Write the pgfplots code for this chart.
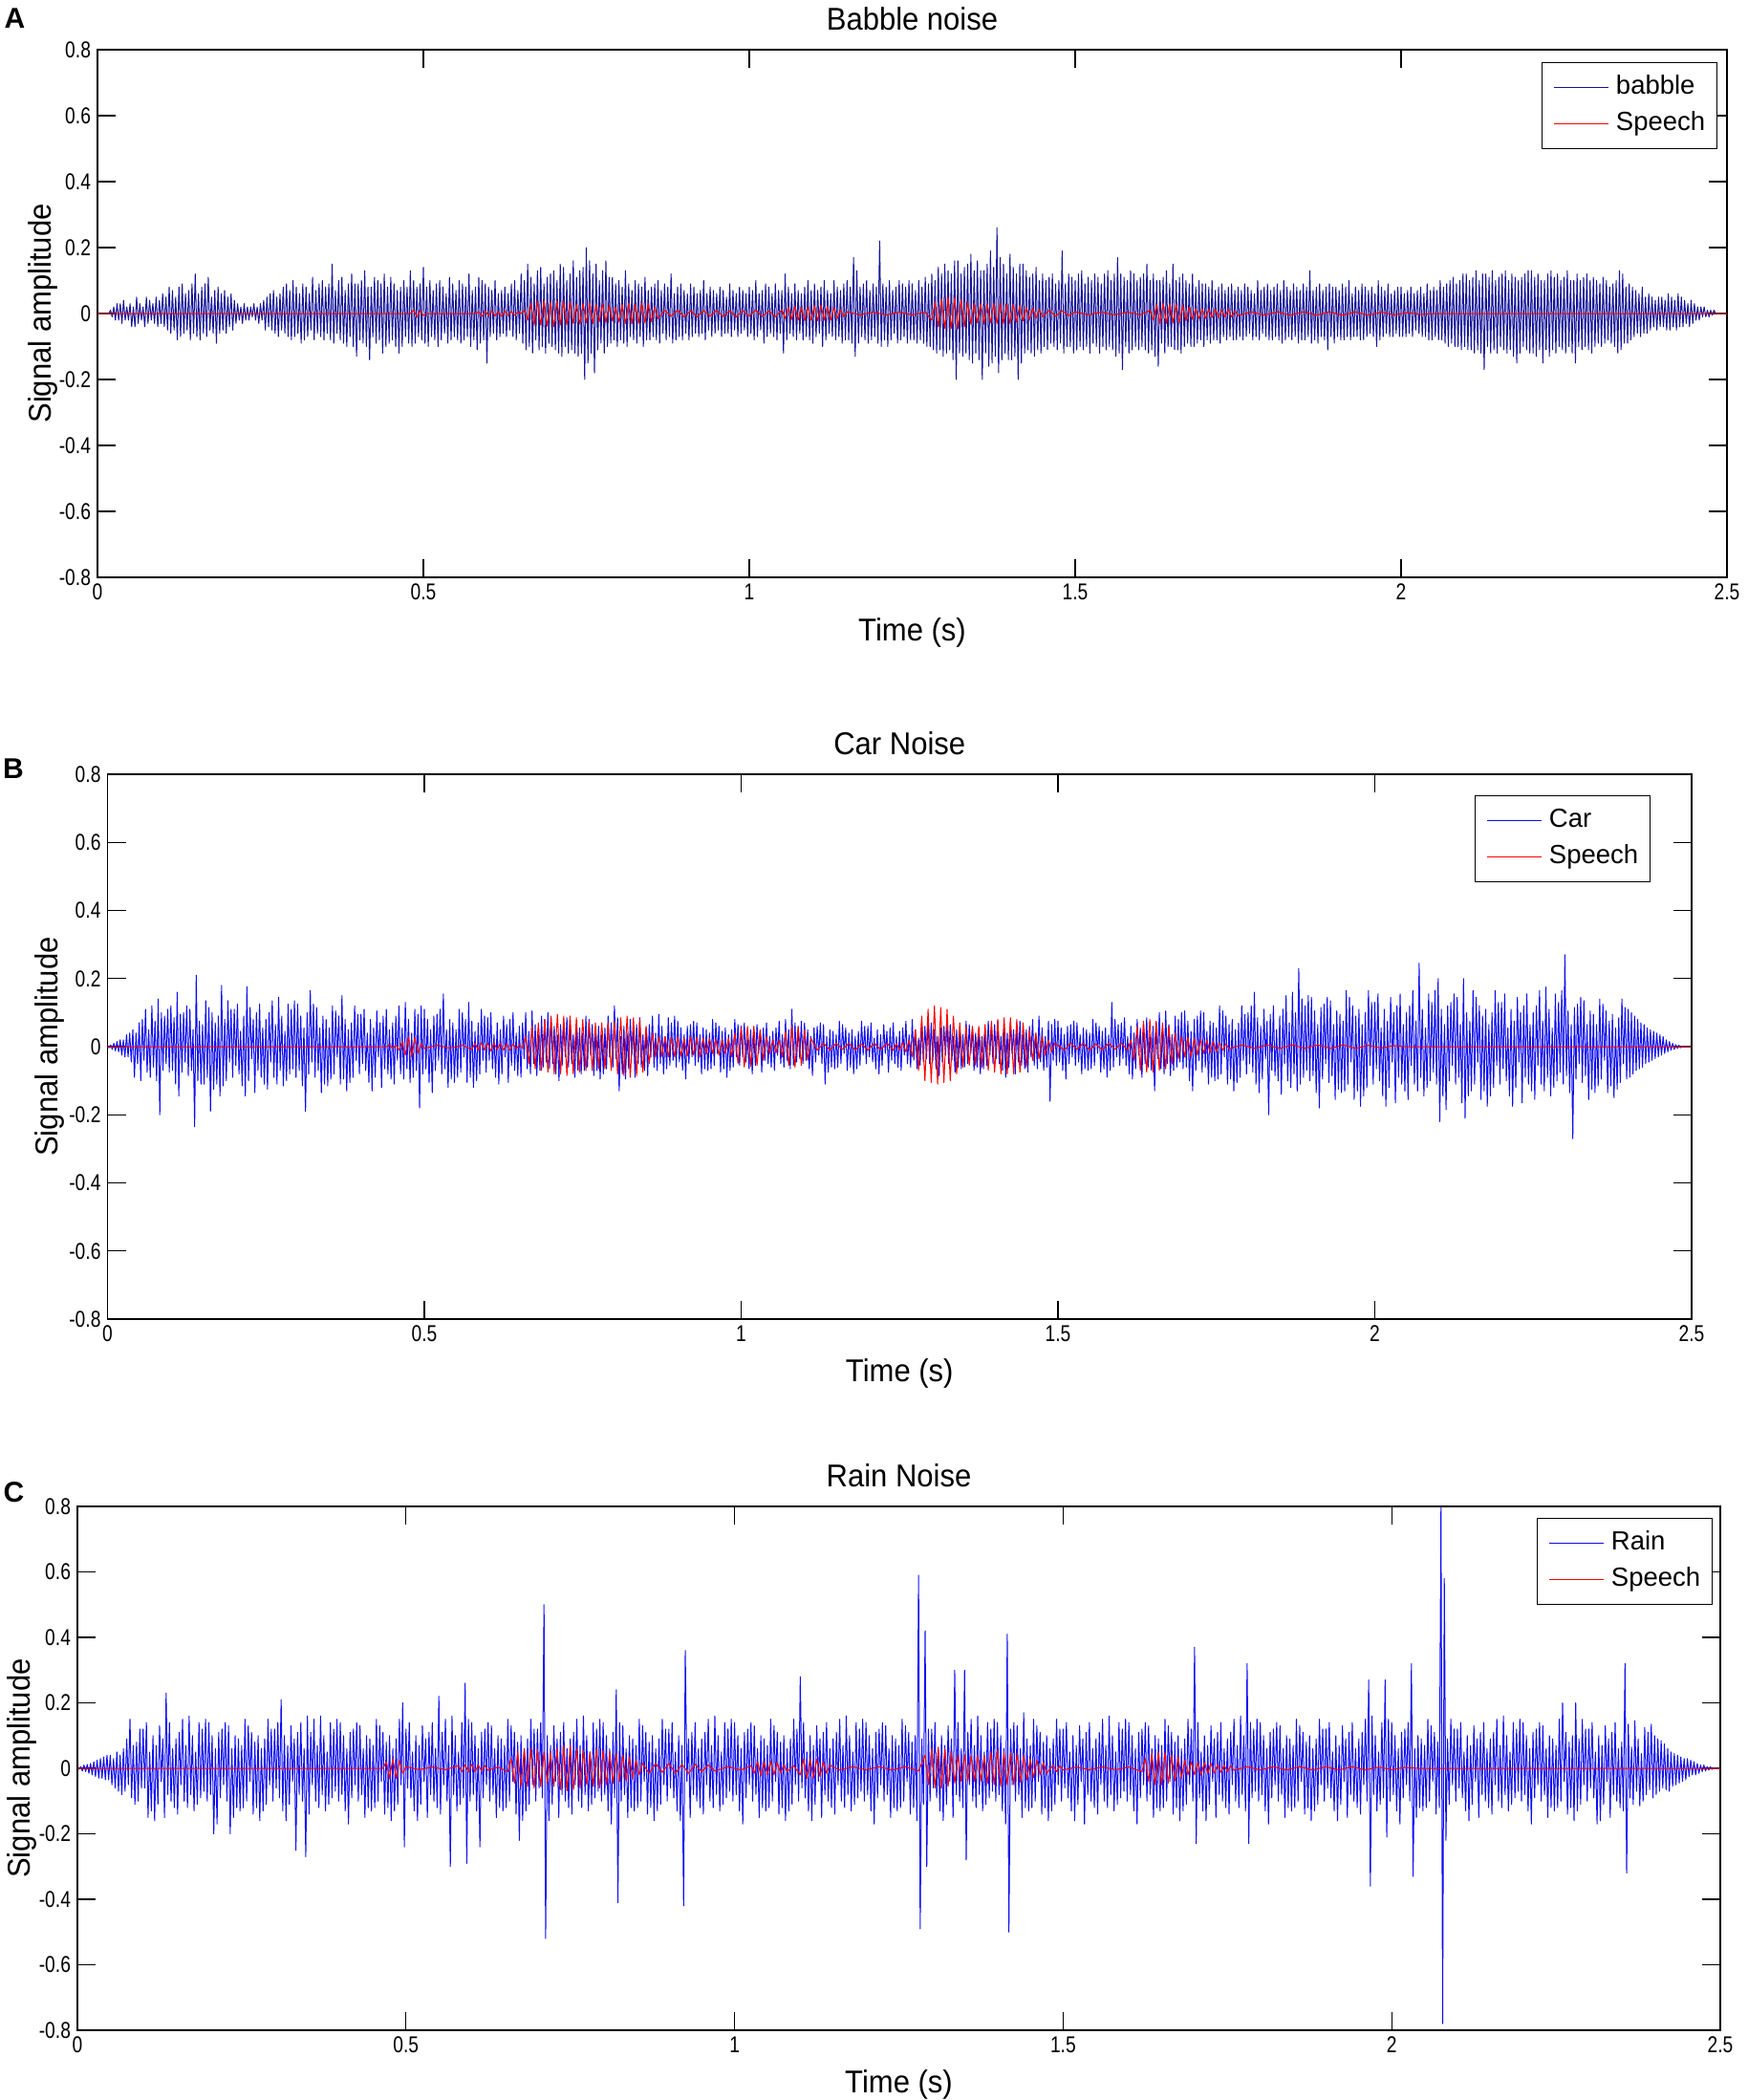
\documentclass[border=0pt]{standalone}
\usepackage{pgfplots}
\pgfplotsset{compat=1.18}
\usepackage{pgfplotstable}
\usepackage{fontspec}
\setmainfont{Liberation Sans}
\newfontfamily\tickfont{Liberation Sans}[FakeStretch=0.8]
\newfontfamily\labfont{Liberation Sans}[FakeStretch=0.94]
\newcommand\tickf{\tickfont\fontsize{12}{14}\selectfont}
\newcommand\labf{\labfont\fontsize{16.5}{19}\selectfont}
\newcommand\legf{\fontsize{13.75}{16}\selectfont}
\definecolor{babbleblue}{rgb}{0.08,0.08,0.6}
\definecolor{carblue}{rgb}{0.05,0.05,0.95}
\definecolor{sred}{rgb}{1,0,0}

% ---------------- Babble noise (y values, step 0.0025 s) ----------------
\pgfplotstableread[header=false,row sep=\\]{
0\\ 0\\ 0\\ 0\\ 0\\ 0\\ 0\\ 0\\ 0.01\\ -0.01\\ 0.02\\ -0.02\\ 0.03\\ -0.02\\ 0.03\\ -0.03\\ 0.04\\ -0.02\\ 0.02\\ -0.02\\
0.03\\ -0.04\\ 0.02\\ -0.04\\ 0.05\\ -0.03\\ 0.03\\ -0.02\\ 0.02\\ -0.04\\ 0.05\\ -0.03\\ 0.04\\ -0.02\\ 0.03\\ -0.03\\ 0.05\\ -0.04\\ 0.04\\ -0.03\\
0.06\\ -0.04\\ 0.05\\ -0.05\\ 0.08\\ -0.06\\ 0.07\\ -0.05\\ 0.05\\ -0.08\\ 0.08\\ -0.07\\ 0.09\\ -0.06\\ 0.06\\ -0.05\\ 0.07\\ -0.08\\ 0.09\\ -0.06\\
0.12\\ -0.07\\ 0.06\\ -0.08\\ 0.08\\ -0.06\\ 0.09\\ -0.07\\ 0.11\\ -0.05\\ 0.05\\ -0.06\\ 0.07\\ -0.09\\ 0.08\\ -0.06\\ 0.06\\ -0.05\\ 0.07\\ -0.06\\
0.05\\ -0.04\\ 0.06\\ -0.05\\ 0.04\\ -0.03\\ 0.03\\ -0.02\\ 0.02\\ -0.03\\ 0.03\\ -0.02\\ 0.02\\ -0.02\\ 0.02\\ -0.01\\ 0.03\\ -0.02\\ 0.02\\ -0.03\\
0.03\\ -0.02\\ 0.04\\ -0.05\\ 0.05\\ -0.04\\ 0.06\\ -0.05\\ 0.07\\ -0.06\\ 0.05\\ -0.07\\ 0.06\\ -0.05\\ 0.08\\ -0.06\\ 0.09\\ -0.07\\ 0.07\\ -0.08\\
0.1\\ -0.07\\ 0.08\\ -0.06\\ 0.06\\ -0.09\\ 0.09\\ -0.08\\ 0.08\\ -0.07\\ 0.06\\ -0.05\\ 0.11\\ -0.08\\ 0.07\\ -0.06\\ 0.09\\ -0.07\\ 0.1\\ -0.08\\
0.08\\ -0.06\\ 0.09\\ -0.08\\ 0.15\\ -0.09\\ 0.07\\ -0.06\\ 0.1\\ -0.08\\ 0.11\\ -0.09\\ 0.07\\ -0.1\\ 0.09\\ -0.07\\ 0.12\\ -0.1\\ 0.09\\ -0.13\\
0.09\\ -0.08\\ 0.1\\ -0.09\\ 0.13\\ -0.1\\ 0.08\\ -0.14\\ 0.08\\ -0.07\\ 0.11\\ -0.09\\ 0.1\\ -0.08\\ 0.09\\ -0.12\\ 0.12\\ -0.1\\ 0.08\\ -0.09\\
0.11\\ -0.08\\ 0.09\\ -0.1\\ 0.07\\ -0.12\\ 0.08\\ -0.1\\ 0.1\\ -0.07\\ 0.08\\ -0.09\\ 0.13\\ -0.1\\ 0.1\\ -0.09\\ 0.08\\ -0.07\\ 0.09\\ -0.08\\
0.14\\ -0.09\\ 0.08\\ -0.1\\ 0.1\\ -0.07\\ 0.07\\ -0.08\\ 0.09\\ -0.1\\ 0.1\\ -0.08\\ 0.08\\ -0.06\\ 0.06\\ -0.09\\ 0.11\\ -0.08\\ 0.09\\ -0.07\\
0.07\\ -0.08\\ 0.1\\ -0.09\\ 0.09\\ -0.08\\ 0.08\\ -0.07\\ 0.12\\ -0.1\\ 0.07\\ -0.08\\ 0.08\\ -0.11\\ 0.11\\ -0.09\\ 0.1\\ -0.08\\ 0.09\\ -0.15\\
0.08\\ -0.07\\ 0.07\\ -0.06\\ 0.1\\ -0.08\\ 0.06\\ -0.07\\ 0.07\\ -0.06\\ 0.08\\ -0.07\\ 0.06\\ -0.05\\ 0.09\\ -0.07\\ 0.1\\ -0.08\\ 0.07\\ -0.06\\
0.12\\ -0.09\\ 0.1\\ -0.11\\ 0.15\\ -0.1\\ 0.11\\ -0.12\\ 0.09\\ -0.08\\ 0.13\\ -0.11\\ 0.14\\ -0.1\\ 0.09\\ -0.12\\ 0.11\\ -0.09\\ 0.12\\ -0.1\\
0.13\\ -0.11\\ 0.1\\ -0.12\\ 0.15\\ -0.13\\ 0.14\\ -0.1\\ 0.1\\ -0.12\\ 0.12\\ -0.11\\ 0.16\\ -0.12\\ 0.11\\ -0.13\\ 0.13\\ -0.12\\ 0.14\\ -0.2\\
0.2\\ -0.15\\ 0.16\\ -0.12\\ 0.12\\ -0.18\\ 0.15\\ -0.11\\ 0.1\\ -0.09\\ 0.13\\ -0.12\\ 0.16\\ -0.1\\ 0.11\\ -0.09\\ 0.11\\ -0.08\\ 0.09\\ -0.1\\
0.1\\ -0.08\\ 0.08\\ -0.09\\ 0.13\\ -0.1\\ 0.09\\ -0.07\\ 0.07\\ -0.08\\ 0.1\\ -0.09\\ 0.09\\ -0.07\\ 0.08\\ -0.1\\ 0.11\\ -0.08\\ 0.07\\ -0.08\\
0.08\\ -0.07\\ 0.09\\ -0.08\\ 0.1\\ -0.09\\ 0.07\\ -0.06\\ 0.09\\ -0.08\\ 0.08\\ -0.07\\ 0.12\\ -0.09\\ 0.06\\ -0.08\\ 0.08\\ -0.07\\ 0.09\\ -0.08\\
0.07\\ -0.06\\ 0.06\\ -0.08\\ 0.09\\ -0.07\\ 0.08\\ -0.06\\ 0.06\\ -0.07\\ 0.07\\ -0.06\\ 0.1\\ -0.08\\ 0.06\\ -0.05\\ 0.08\\ -0.07\\ 0.07\\ -0.06\\
0.06\\ -0.05\\ 0.08\\ -0.07\\ 0.07\\ -0.06\\ 0.05\\ -0.06\\ 0.09\\ -0.07\\ 0.07\\ -0.05\\ 0.06\\ -0.07\\ 0.08\\ -0.06\\ 0.07\\ -0.05\\ 0.06\\ -0.07\\
0.08\\ -0.06\\ 0.07\\ -0.08\\ 0.1\\ -0.07\\ 0.06\\ -0.05\\ 0.07\\ -0.09\\ 0.09\\ -0.07\\ 0.08\\ -0.06\\ 0.06\\ -0.07\\ 0.09\\ -0.08\\ 0.07\\ -0.06\\
0.07\\ -0.12\\ 0.12\\ -0.08\\ 0.08\\ -0.06\\ 0.06\\ -0.07\\ 0.09\\ -0.08\\ 0.07\\ -0.06\\ 0.06\\ -0.08\\ 0.08\\ -0.07\\ 0.1\\ -0.08\\ 0.07\\ -0.09\\
0.09\\ -0.07\\ 0.07\\ -0.06\\ 0.08\\ -0.1\\ 0.1\\ -0.08\\ 0.07\\ -0.06\\ 0.06\\ -0.07\\ 0.1\\ -0.08\\ 0.08\\ -0.07\\ 0.07\\ -0.09\\ 0.09\\ -0.08\\
0.1\\ -0.08\\ 0.08\\ -0.09\\ 0.17\\ -0.13\\ 0.13\\ -0.09\\ 0.08\\ -0.07\\ 0.09\\ -0.08\\ 0.1\\ -0.09\\ 0.07\\ -0.08\\ 0.09\\ -0.07\\ 0.08\\ -0.09\\
0.22\\ -0.1\\ 0.09\\ -0.08\\ 0.08\\ -0.1\\ 0.1\\ -0.08\\ 0.07\\ -0.06\\ 0.08\\ -0.09\\ 0.1\\ -0.08\\ 0.09\\ -0.07\\ 0.08\\ -0.09\\ 0.1\\ -0.08\\
0.09\\ -0.08\\ 0.07\\ -0.09\\ 0.1\\ -0.08\\ 0.08\\ -0.09\\ 0.11\\ -0.1\\ 0.09\\ -0.1\\ 0.12\\ -0.11\\ 0.1\\ -0.12\\ 0.14\\ -0.11\\ 0.12\\ -0.13\\
0.15\\ -0.12\\ 0.13\\ -0.11\\ 0.12\\ -0.14\\ 0.16\\ -0.2\\ 0.16\\ -0.12\\ 0.12\\ -0.13\\ 0.14\\ -0.12\\ 0.15\\ -0.14\\ 0.18\\ -0.15\\ 0.13\\ -0.12\\
0.16\\ -0.14\\ 0.13\\ -0.2\\ 0.13\\ -0.12\\ 0.15\\ -0.16\\ 0.19\\ -0.15\\ 0.14\\ -0.13\\ 0.26\\ -0.18\\ 0.17\\ -0.14\\ 0.15\\ -0.12\\ 0.12\\ -0.14\\
0.18\\ -0.14\\ 0.14\\ -0.13\\ 0.12\\ -0.2\\ 0.15\\ -0.15\\ 0.15\\ -0.12\\ 0.13\\ -0.11\\ 0.11\\ -0.12\\ 0.12\\ -0.13\\ 0.14\\ -0.11\\ 0.1\\ -0.12\\
0.12\\ -0.1\\ 0.1\\ -0.11\\ 0.11\\ -0.09\\ 0.12\\ -0.1\\ 0.09\\ -0.11\\ 0.1\\ -0.09\\ 0.19\\ -0.12\\ 0.09\\ -0.1\\ 0.12\\ -0.1\\ 0.11\\ -0.12\\
0.1\\ -0.11\\ 0.12\\ -0.1\\ 0.13\\ -0.11\\ 0.09\\ -0.1\\ 0.11\\ -0.12\\ 0.1\\ -0.09\\ 0.12\\ -0.1\\ 0.11\\ -0.12\\ 0.09\\ -0.1\\ 0.12\\ -0.11\\
0.13\\ -0.1\\ 0.1\\ -0.11\\ 0.12\\ -0.13\\ 0.17\\ -0.12\\ 0.12\\ -0.17\\ 0.11\\ -0.1\\ 0.1\\ -0.12\\ 0.13\\ -0.11\\ 0.12\\ -0.1\\ 0.1\\ -0.11\\
0.11\\ -0.1\\ 0.12\\ -0.11\\ 0.15\\ -0.12\\ 0.1\\ -0.11\\ 0.12\\ -0.13\\ 0.1\\ -0.16\\ 0.1\\ -0.09\\ 0.11\\ -0.12\\ 0.13\\ -0.1\\ 0.09\\ -0.1\\
0.15\\ -0.11\\ 0.1\\ -0.11\\ 0.11\\ -0.12\\ 0.12\\ -0.1\\ 0.1\\ -0.09\\ 0.09\\ -0.1\\ 0.12\\ -0.1\\ 0.08\\ -0.09\\ 0.1\\ -0.08\\ 0.09\\ -0.1\\
0.09\\ -0.08\\ 0.08\\ -0.09\\ 0.1\\ -0.08\\ 0.07\\ -0.08\\ 0.08\\ -0.09\\ 0.09\\ -0.07\\ 0.07\\ -0.08\\ 0.08\\ -0.07\\ 0.09\\ -0.08\\ 0.07\\ -0.08\\
0.08\\ -0.07\\ 0.07\\ -0.08\\ 0.09\\ -0.07\\ 0.08\\ -0.06\\ 0.07\\ -0.08\\ 0.06\\ -0.07\\ 0.1\\ -0.08\\ 0.07\\ -0.06\\ 0.08\\ -0.07\\ 0.09\\ -0.08\\
0.07\\ -0.08\\ 0.08\\ -0.07\\ 0.09\\ -0.08\\ 0.07\\ -0.09\\ 0.1\\ -0.08\\ 0.08\\ -0.07\\ 0.07\\ -0.08\\ 0.09\\ -0.07\\ 0.08\\ -0.09\\ 0.07\\ -0.08\\
0.09\\ -0.08\\ 0.08\\ -0.07\\ 0.13\\ -0.09\\ 0.07\\ -0.08\\ 0.08\\ -0.09\\ 0.09\\ -0.07\\ 0.07\\ -0.08\\ 0.08\\ -0.11\\ 0.09\\ -0.07\\ 0.08\\ -0.09\\
0.08\\ -0.07\\ 0.07\\ -0.08\\ 0.09\\ -0.08\\ 0.08\\ -0.07\\ 0.1\\ -0.08\\ 0.06\\ -0.07\\ 0.08\\ -0.07\\ 0.07\\ -0.08\\ 0.09\\ -0.08\\ 0.08\\ -0.07\\
0.07\\ -0.06\\ 0.08\\ -0.07\\ 0.06\\ -0.1\\ 0.1\\ -0.08\\ 0.08\\ -0.07\\ 0.07\\ -0.06\\ 0.09\\ -0.07\\ 0.06\\ -0.07\\ 0.07\\ -0.06\\ 0.08\\ -0.07\\
0.08\\ -0.07\\ 0.06\\ -0.07\\ 0.07\\ -0.06\\ 0.08\\ -0.07\\ 0.06\\ -0.05\\ 0.07\\ -0.06\\ 0.08\\ -0.07\\ 0.06\\ -0.07\\ 0.09\\ -0.08\\ 0.07\\ -0.08\\
0.08\\ -0.07\\ 0.07\\ -0.08\\ 0.1\\ -0.08\\ 0.08\\ -0.09\\ 0.09\\ -0.1\\ 0.1\\ -0.09\\ 0.11\\ -0.1\\ 0.09\\ -0.1\\ 0.1\\ -0.11\\ 0.12\\ -0.1\\
0.12\\ -0.11\\ 0.1\\ -0.11\\ 0.11\\ -0.12\\ 0.13\\ -0.11\\ 0.1\\ -0.12\\ 0.12\\ -0.17\\ 0.12\\ -0.1\\ 0.11\\ -0.12\\ 0.13\\ -0.11\\ 0.1\\ -0.12\\
0.11\\ -0.1\\ 0.12\\ -0.11\\ 0.13\\ -0.12\\ 0.1\\ -0.11\\ 0.12\\ -0.13\\ 0.11\\ -0.15\\ 0.1\\ -0.12\\ 0.11\\ -0.1\\ 0.12\\ -0.11\\ 0.13\\ -0.12\\
0.13\\ -0.12\\ 0.11\\ -0.13\\ 0.12\\ -0.11\\ 0.1\\ -0.15\\ 0.1\\ -0.11\\ 0.12\\ -0.13\\ 0.13\\ -0.11\\ 0.11\\ -0.12\\ 0.12\\ -0.1\\ 0.1\\ -0.11\\
0.11\\ -0.12\\ 0.13\\ -0.1\\ 0.1\\ -0.12\\ 0.1\\ -0.15\\ 0.12\\ -0.1\\ 0.1\\ -0.11\\ 0.11\\ -0.1\\ 0.12\\ -0.11\\ 0.1\\ -0.12\\ 0.11\\ -0.1\\
0.1\\ -0.09\\ 0.09\\ -0.1\\ 0.11\\ -0.09\\ 0.1\\ -0.08\\ 0.08\\ -0.09\\ 0.09\\ -0.1\\ 0.1\\ -0.12\\ 0.13\\ -0.11\\ 0.12\\ -0.09\\ 0.08\\ -0.09\\
0.09\\ -0.08\\ 0.08\\ -0.07\\ 0.07\\ -0.06\\ 0.06\\ -0.07\\ 0.08\\ -0.06\\ 0.05\\ -0.06\\ 0.06\\ -0.05\\ 0.05\\ -0.04\\ 0.04\\ -0.05\\ 0.05\\ -0.04\\
0.05\\ -0.04\\ 0.04\\ -0.05\\ 0.06\\ -0.05\\ 0.05\\ -0.04\\ 0.04\\ -0.05\\ 0.06\\ -0.04\\ 0.05\\ -0.04\\ 0.04\\ -0.03\\ 0.03\\ -0.04\\ 0.04\\ -0.03\\
0.03\\ -0.02\\ 0.02\\ -0.02\\ 0.02\\ -0.01\\ 0.02\\ -0.01\\ 0.01\\ -0.01\\ 0.01\\ -0.005\\ 0.01\\ 0\\ 0\\ 0\\ 0\\ 0\\ 0\\ 0\\
}\noiseA

% ---------------- Speech in panel A (t, y) ----------------
\pgfplotstableread[header=false,row sep=\\]{
0 0\\ 0.48 0\\ 0.485 0.01\\ 0.49 -0.01\\ 0.495 0.008\\ 0.5 -0.006\\ 0.505 0\\ 0.58 0\\
0.585 0.005\\ 0.59 -0.008\\ 0.595 0.007\\ 0.6 -0.006\\ 0.605 0.008\\ 0.61 -0.007\\ 0.615 0.006\\ 0.62 -0.008\\ 0.625 0.007\\ 0.63 -0.005\\ 0.635 0.006\\ 0.64 -0.005\\ 0.645 0.004\\ 0.65 0\\
0.655 0.01\\ 0.66 -0.02\\ 0.665 0.03\\ 0.67 -0.035\\ 0.675 0.038\\ 0.68 -0.035\\ 0.685 0.04\\ 0.69 -0.038\\ 0.695 0.035\\ 0.7 -0.04\\ 0.705 0.038\\ 0.71 -0.035\\ 0.715 0.037\\ 0.72 -0.034\\ 0.725 0.036\\ 0.73 -0.03\\
0.735 0.028\\ 0.74 -0.032\\ 0.745 0.03\\ 0.75 -0.028\\ 0.755 0.033\\ 0.76 -0.03\\ 0.765 0.028\\ 0.77 -0.025\\ 0.775 0.03\\ 0.78 -0.027\\ 0.785 0.025\\ 0.79 -0.022\\ 0.795 0.02\\ 0.8 -0.025\\ 0.805 0.028\\ 0.81 -0.03\\ 0.815 0.032\\ 0.82 -0.03\\ 0.825 0.028\\ 0.83 -0.03\\ 0.835 0.032\\ 0.84 -0.028\\ 0.845 0.03\\ 0.85 -0.025\\ 0.855 0.02\\ 0.86 -0.015\\
0.87 0.01\\ 0.88 -0.008\\ 0.89 0.01\\ 0.9 -0.01\\ 0.91 0.008\\ 0.92 -0.01\\ 0.93 0.009\\ 0.94 -0.008\\ 0.95 0.01\\ 0.96 -0.009\\ 0.97 0.008\\ 0.98 -0.01\\ 0.99 0.009\\ 1 -0.008\\ 1.01 0.01\\ 1.02 -0.009\\ 1.03 0.008\\ 1.04 -0.01\\ 1.05 0.012\\
1.055 -0.015\\ 1.06 0.02\\ 1.065 -0.018\\ 1.07 0.022\\ 1.075 -0.02\\ 1.08 0.018\\ 1.085 -0.022\\ 1.09 0.02\\ 1.095 -0.02\\ 1.1 0.024\\ 1.105 -0.022\\ 1.11 0.025\\ 1.115 -0.02\\ 1.12 0.022\\ 1.125 -0.02\\ 1.13 0.018\\ 1.135 -0.015\\ 1.14 0.012\\ 1.145 -0.01\\ 1.15 0.005\\
1.17 -0.004\\ 1.19 0.004\\ 1.21 -0.004\\ 1.23 0.004\\ 1.25 -0.004\\ 1.27 0.004\\
1.28 -0.02\\ 1.285 0.035\\ 1.29 -0.04\\ 1.295 0.045\\ 1.3 -0.045\\ 1.305 0.05\\ 1.31 -0.045\\ 1.315 0.048\\ 1.32 -0.045\\ 1.325 0.042\\ 1.33 -0.04\\ 1.335 0.035\\
1.34 -0.032\\ 1.345 0.03\\ 1.35 -0.028\\ 1.355 0.03\\ 1.36 -0.032\\ 1.365 0.03\\ 1.37 -0.028\\ 1.375 0.03\\ 1.38 -0.03\\ 1.385 0.032\\ 1.39 -0.03\\ 1.395 0.028\\ 1.4 -0.03\\ 1.405 0.028\\ 1.41 -0.026\\ 1.415 0.025\\ 1.42 -0.022\\ 1.425 0.02\\ 1.43 -0.018\\ 1.435 0.016\\ 1.44 -0.014\\ 1.445 0.012\\
1.45 -0.01\\ 1.46 0.01\\ 1.47 -0.008\\ 1.48 0.008\\ 1.49 -0.006\\ 1.5 0.005\\
1.52 -0.004\\ 1.54 0.004\\ 1.56 -0.004\\ 1.58 0.004\\ 1.6 -0.004\\ 1.615 0.01\\
1.62 -0.02\\ 1.625 0.028\\ 1.63 -0.03\\ 1.635 0.032\\ 1.64 -0.03\\ 1.645 0.03\\ 1.65 -0.028\\ 1.655 0.03\\ 1.66 -0.028\\ 1.665 0.025\\ 1.67 -0.022\\ 1.675 0.02\\ 1.68 -0.018\\
1.685 0.015\\ 1.69 -0.015\\ 1.695 0.014\\ 1.7 -0.015\\ 1.705 0.013\\ 1.71 -0.012\\ 1.715 0.014\\ 1.72 -0.012\\ 1.725 0.01\\ 1.73 -0.01\\ 1.735 0.012\\ 1.74 -0.01\\ 1.745 0.008\\ 1.75 -0.006\\
1.77 0.005\\ 1.79 -0.005\\ 1.81 0.005\\ 1.83 -0.005\\ 1.85 0.005\\ 1.87 -0.005\\ 1.89 0.005\\ 1.91 -0.005\\ 1.93 0.005\\ 1.95 -0.005\\ 1.97 0.004\\ 1.99 -0.004\\ 2.01 0.003\\ 2.03 -0.003\\ 2.05 0\\ 2.5 0\\
}\speechA

% ---------------- Car noise (y values, step 0.0025 s) ----------------
\pgfplotstableread[header=false,row sep=\\]{
0\\ -0.003\\ 0.005\\ -0.008\\ 0.01\\ -0.012\\ 0.015\\ -0.015\\ 0.02\\ -0.025\\ 0.02\\ -0.03\\ 0.035\\ -0.03\\ 0.04\\ -0.045\\ 0.05\\ -0.09\\ 0.04\\ -0.05\\
0.07\\ -0.1\\ 0.08\\ -0.04\\ 0.11\\ -0.075\\ 0.05\\ -0.09\\ 0.12\\ -0.06\\ 0.075\\ -0.1\\ 0.14\\ -0.2\\ 0.1\\ -0.07\\ 0.09\\ -0.05\\ 0.11\\ -0.075\\
0.12\\ -0.07\\ 0.085\\ -0.11\\ 0.16\\ -0.145\\ 0.095\\ -0.075\\ 0.1\\ -0.045\\ 0.12\\ -0.085\\ 0.11\\ -0.07\\ 0.05\\ -0.235\\ 0.21\\ -0.1\\ 0.075\\ -0.11\\
0.065\\ -0.11\\ 0.135\\ -0.09\\ 0.115\\ -0.19\\ 0.1\\ -0.125\\ 0.07\\ -0.11\\ 0.09\\ -0.145\\ 0.18\\ -0.115\\ 0.08\\ -0.1\\ 0.135\\ -0.045\\ 0.11\\ -0.09\\
0.11\\ -0.055\\ 0.125\\ -0.08\\ 0.045\\ -0.115\\ 0.09\\ -0.145\\ 0.176\\ -0.1\\ 0.115\\ -0.035\\ 0.08\\ -0.135\\ 0.1\\ -0.07\\ 0.125\\ -0.09\\ 0.055\\ -0.11\\
0.08\\ -0.125\\ 0.1\\ -0.045\\ 0.135\\ -0.09\\ 0.065\\ -0.11\\ 0.145\\ -0.07\\ 0.09\\ -0.115\\ 0.045\\ -0.1\\ 0.125\\ -0.08\\ 0.11\\ -0.065\\ 0.135\\ -0.09\\
0.125\\ -0.07\\ 0.09\\ -0.115\\ 0.055\\ -0.19\\ 0.1\\ -0.08\\ 0.165\\ -0.045\\ 0.125\\ -0.09\\ 0.115\\ -0.07\\ 0.055\\ -0.135\\ 0.09\\ -0.11\\ 0.08\\ -0.115\\
0.055\\ -0.095\\ 0.12\\ -0.08\\ 0.105\\ -0.03\\ 0.09\\ -0.11\\ 0.15\\ -0.095\\ 0.08\\ -0.13\\ 0.05\\ -0.105\\ 0.07\\ -0.09\\ 0.12\\ -0.04\\ 0.095\\ -0.08\\
0.095\\ -0.05\\ 0.11\\ -0.07\\ 0.04\\ -0.105\\ 0.08\\ -0.13\\ 0.055\\ -0.09\\ 0.105\\ -0.03\\ 0.07\\ -0.12\\ 0.09\\ -0.065\\ 0.11\\ -0.08\\ 0.05\\ -0.095\\
0.07\\ -0.11\\ 0.09\\ -0.04\\ 0.12\\ -0.08\\ 0.055\\ -0.095\\ 0.13\\ -0.065\\ 0.08\\ -0.105\\ 0.04\\ -0.09\\ 0.11\\ -0.07\\ 0.095\\ -0.18\\ 0.12\\ -0.08\\
0.11\\ -0.065\\ 0.08\\ -0.105\\ 0.05\\ -0.135\\ 0.09\\ -0.07\\ 0.095\\ -0.04\\ 0.11\\ -0.08\\ 0.155\\ -0.065\\ 0.05\\ -0.12\\ 0.08\\ -0.095\\ 0.07\\ -0.105\\
0.05\\ -0.09\\ 0.11\\ -0.075\\ 0.1\\ -0.03\\ 0.08\\ -0.105\\ 0.13\\ -0.09\\ 0.075\\ -0.12\\ 0.045\\ -0.1\\ 0.07\\ -0.08\\ 0.11\\ -0.04\\ 0.09\\ -0.075\\
0.085\\ -0.04\\ 0.1\\ -0.065\\ 0.035\\ -0.09\\ 0.07\\ -0.11\\ 0.05\\ -0.08\\ 0.09\\ -0.03\\ 0.065\\ -0.105\\ 0.08\\ -0.055\\ 0.1\\ -0.07\\ 0.04\\ -0.085\\
0.06\\ -0.09\\ 0.07\\ -0.035\\ 0.1\\ -0.065\\ 0.045\\ -0.08\\ 0.105\\ -0.05\\ 0.065\\ -0.085\\ 0.035\\ -0.07\\ 0.09\\ -0.06\\ 0.08\\ -0.045\\ 0.1\\ -0.065\\
0.085\\ -0.05\\ 0.06\\ -0.08\\ 0.035\\ -0.1\\ 0.065\\ -0.055\\ 0.07\\ -0.03\\ 0.085\\ -0.06\\ 0.08\\ -0.05\\ 0.035\\ -0.09\\ 0.06\\ -0.07\\ 0.055\\ -0.08\\
0.04\\ -0.07\\ 0.09\\ -0.06\\ 0.08\\ -0.025\\ 0.065\\ -0.085\\ 0.05\\ -0.07\\ 0.06\\ -0.095\\ 0.035\\ -0.08\\ 0.055\\ -0.065\\ 0.09\\ -0.03\\ 0.07\\ -0.06\\
0.12\\ -0.035\\ 0.085\\ -0.13\\ 0.03\\ -0.08\\ 0.06\\ -0.095\\ 0.04\\ -0.065\\ 0.08\\ -0.025\\ 0.055\\ -0.09\\ 0.065\\ -0.05\\ 0.085\\ -0.06\\ 0.035\\ -0.07\\
0.055\\ -0.085\\ 0.065\\ -0.03\\ 0.09\\ -0.06\\ 0.04\\ -0.07\\ 0.095\\ -0.05\\ 0.06\\ -0.08\\ 0.03\\ -0.065\\ 0.085\\ -0.055\\ 0.07\\ -0.04\\ 0.09\\ -0.06\\
0.075\\ -0.045\\ 0.055\\ -0.07\\ 0.035\\ -0.095\\ 0.06\\ -0.05\\ 0.065\\ -0.03\\ 0.075\\ -0.055\\ 0.07\\ -0.045\\ 0.035\\ -0.08\\ 0.055\\ -0.065\\ 0.05\\ -0.07\\
0.04\\ -0.065\\ 0.08\\ -0.055\\ 0.07\\ -0.02\\ 0.06\\ -0.075\\ 0.045\\ -0.065\\ 0.055\\ -0.09\\ 0.035\\ -0.07\\ 0.05\\ -0.06\\ 0.08\\ -0.03\\ 0.065\\ -0.055\\
0.06\\ -0.03\\ 0.07\\ -0.045\\ 0.025\\ -0.065\\ 0.05\\ -0.08\\ 0.035\\ -0.055\\ 0.065\\ -0.02\\ 0.045\\ -0.075\\ 0.055\\ -0.04\\ 0.07\\ -0.05\\ 0.03\\ -0.06\\
0.045\\ -0.07\\ 0.055\\ -0.025\\ 0.075\\ -0.05\\ 0.035\\ -0.06\\ 0.08\\ -0.04\\ 0.05\\ -0.065\\ 0.11\\ -0.055\\ 0.07\\ -0.045\\ 0.06\\ -0.035\\ 0.075\\ -0.05\\
0.07\\ -0.04\\ 0.05\\ -0.065\\ 0.03\\ -0.085\\ 0.055\\ -0.045\\ 0.06\\ -0.025\\ 0.07\\ -0.05\\ 0.065\\ -0.11\\ 0.03\\ -0.075\\ 0.05\\ -0.06\\ 0.045\\ -0.065\\
0.035\\ -0.06\\ 0.075\\ -0.05\\ 0.065\\ -0.02\\ 0.055\\ -0.07\\ 0.04\\ -0.06\\ 0.05\\ -0.08\\ 0.03\\ -0.065\\ 0.045\\ -0.055\\ 0.075\\ -0.025\\ 0.06\\ -0.05\\
0.06\\ -0.03\\ 0.07\\ -0.045\\ 0.025\\ -0.065\\ 0.05\\ -0.08\\ 0.035\\ -0.055\\ 0.065\\ -0.02\\ 0.045\\ -0.075\\ 0.055\\ -0.04\\ 0.07\\ -0.05\\ 0.03\\ -0.06\\
0.045\\ -0.07\\ 0.055\\ -0.025\\ 0.075\\ -0.05\\ 0.035\\ -0.06\\ 0.08\\ -0.04\\ 0.05\\ -0.065\\ 0.025\\ -0.055\\ 0.07\\ -0.045\\ 0.06\\ -0.035\\ 0.075\\ -0.05\\
0.07\\ -0.04\\ 0.05\\ -0.065\\ 0.03\\ -0.085\\ 0.055\\ -0.045\\ 0.06\\ -0.025\\ 0.07\\ -0.05\\ 0.065\\ -0.04\\ 0.03\\ -0.075\\ 0.05\\ -0.06\\ 0.045\\ -0.065\\
0.035\\ -0.06\\ 0.075\\ -0.05\\ 0.065\\ -0.02\\ 0.055\\ -0.07\\ 0.04\\ -0.06\\ 0.05\\ -0.08\\ 0.03\\ -0.065\\ 0.045\\ -0.055\\ 0.075\\ -0.025\\ 0.06\\ -0.05\\
0.065\\ -0.035\\ 0.075\\ -0.05\\ 0.03\\ -0.07\\ 0.055\\ -0.09\\ 0.04\\ -0.06\\ 0.07\\ -0.02\\ 0.05\\ -0.08\\ 0.06\\ -0.045\\ 0.075\\ -0.055\\ 0.035\\ -0.065\\
0.05\\ -0.075\\ 0.06\\ -0.03\\ 0.08\\ -0.055\\ 0.04\\ -0.065\\ 0.09\\ -0.045\\ 0.055\\ -0.07\\ 0.03\\ -0.06\\ 0.075\\ -0.16\\ 0.065\\ -0.04\\ 0.08\\ -0.055\\
0.075\\ -0.045\\ 0.055\\ -0.07\\ 0.035\\ -0.095\\ 0.06\\ -0.05\\ 0.065\\ -0.03\\ 0.075\\ -0.055\\ 0.07\\ -0.045\\ 0.035\\ -0.08\\ 0.055\\ -0.065\\ 0.05\\ -0.07\\
0.04\\ -0.065\\ 0.08\\ -0.055\\ 0.07\\ -0.02\\ 0.06\\ -0.075\\ 0.045\\ -0.065\\ 0.055\\ -0.09\\ 0.035\\ -0.07\\ 0.13\\ -0.06\\ 0.08\\ -0.03\\ 0.065\\ -0.055\\
0.07\\ -0.035\\ 0.085\\ -0.055\\ 0.03\\ -0.08\\ 0.06\\ -0.095\\ 0.04\\ -0.065\\ 0.08\\ -0.025\\ 0.055\\ -0.09\\ 0.065\\ -0.05\\ 0.085\\ -0.06\\ 0.035\\ -0.07\\
0.06\\ -0.13\\ 0.07\\ -0.035\\ 0.1\\ -0.065\\ 0.045\\ -0.08\\ 0.105\\ -0.05\\ 0.065\\ -0.085\\ 0.035\\ -0.07\\ 0.09\\ -0.06\\ 0.08\\ -0.045\\ 0.1\\ -0.065\\
0.105\\ -0.06\\ 0.075\\ -0.1\\ 0.045\\ -0.13\\ 0.08\\ -0.07\\ 0.09\\ -0.04\\ 0.105\\ -0.075\\ 0.1\\ -0.06\\ 0.045\\ -0.11\\ 0.075\\ -0.09\\ 0.07\\ -0.1\\
0.055\\ -0.095\\ 0.12\\ -0.08\\ 0.105\\ -0.03\\ 0.09\\ -0.11\\ 0.065\\ -0.095\\ 0.08\\ -0.13\\ 0.05\\ -0.105\\ 0.07\\ -0.09\\ 0.12\\ -0.04\\ 0.095\\ -0.08\\
0.1\\ -0.05\\ 0.12\\ -0.075\\ 0.16\\ -0.11\\ 0.085\\ -0.135\\ 0.06\\ -0.095\\ 0.11\\ -0.035\\ 0.075\\ -0.2\\ 0.095\\ -0.07\\ 0.12\\ -0.085\\ 0.05\\ -0.1\\
0.09\\ -0.14\\ 0.11\\ -0.05\\ 0.15\\ -0.1\\ 0.07\\ -0.12\\ 0.16\\ -0.08\\ 0.1\\ -0.13\\ 0.23\\ -0.11\\ 0.14\\ -0.09\\ 0.12\\ -0.07\\ 0.15\\ -0.1\\
0.145\\ -0.085\\ 0.105\\ -0.135\\ 0.065\\ -0.18\\ 0.115\\ -0.095\\ 0.125\\ -0.05\\ 0.145\\ -0.105\\ 0.135\\ -0.085\\ 0.065\\ -0.155\\ 0.105\\ -0.125\\ 0.095\\ -0.135\\
0.075\\ -0.13\\ 0.165\\ -0.11\\ 0.145\\ -0.045\\ 0.12\\ -0.155\\ 0.09\\ -0.13\\ 0.11\\ -0.175\\ 0.065\\ -0.145\\ 0.1\\ -0.12\\ 0.165\\ -0.055\\ 0.13\\ -0.11\\
0.13\\ -0.065\\ 0.155\\ -0.1\\ 0.055\\ -0.145\\ 0.11\\ -0.175\\ 0.075\\ -0.12\\ 0.145\\ -0.045\\ 0.1\\ -0.165\\ 0.12\\ -0.09\\ 0.155\\ -0.11\\ 0.065\\ -0.13\\
0.1\\ -0.155\\ 0.12\\ -0.055\\ 0.165\\ -0.11\\ 0.075\\ -0.13\\ 0.245\\ -0.09\\ 0.11\\ -0.145\\ 0.055\\ -0.12\\ 0.155\\ -0.1\\ 0.13\\ -0.075\\ 0.165\\ -0.11\\
0.2\\ -0.22\\ 0.11\\ -0.145\\ 0.065\\ -0.185\\ 0.12\\ -0.1\\ 0.13\\ -0.055\\ 0.155\\ -0.11\\ 0.145\\ -0.09\\ 0.065\\ -0.165\\ 0.2\\ -0.21\\ 0.1\\ -0.145\\
0.075\\ -0.13\\ 0.165\\ -0.11\\ 0.145\\ -0.045\\ 0.12\\ -0.155\\ 0.09\\ -0.13\\ 0.11\\ -0.175\\ 0.065\\ -0.145\\ 0.1\\ -0.12\\ 0.165\\ -0.055\\ 0.13\\ -0.11\\
0.13\\ -0.065\\ 0.155\\ -0.1\\ 0.055\\ -0.145\\ 0.11\\ -0.175\\ 0.075\\ -0.12\\ 0.145\\ -0.045\\ 0.1\\ -0.165\\ 0.12\\ -0.09\\ 0.155\\ -0.11\\ 0.065\\ -0.13\\
0.1\\ -0.155\\ 0.12\\ -0.055\\ 0.165\\ -0.11\\ 0.075\\ -0.13\\ 0.175\\ -0.09\\ 0.11\\ -0.145\\ 0.055\\ -0.12\\ 0.155\\ -0.1\\ 0.13\\ -0.075\\ 0.165\\ -0.11\\
0.27\\ -0.085\\ 0.105\\ -0.135\\ 0.065\\ -0.27\\ 0.115\\ -0.095\\ 0.125\\ -0.05\\ 0.145\\ -0.105\\ 0.135\\ -0.085\\ 0.065\\ -0.155\\ 0.105\\ -0.125\\ 0.095\\ -0.135\\
0.065\\ -0.115\\ 0.14\\ -0.095\\ 0.125\\ -0.04\\ 0.105\\ -0.135\\ 0.075\\ -0.115\\ 0.095\\ -0.15\\ 0.055\\ -0.125\\ 0.085\\ -0.105\\ 0.14\\ -0.05\\ 0.115\\ -0.095\\
0.11\\ -0.09\\ 0.1\\ -0.08\\ 0.09\\ -0.07\\ 0.08\\ -0.065\\ 0.07\\ -0.06\\ 0.065\\ -0.05\\ 0.055\\ -0.045\\ 0.05\\ -0.04\\ 0.045\\ -0.035\\ 0.04\\ -0.03\\
0.035\\ -0.025\\ 0.03\\ -0.02\\ 0.02\\ -0.015\\ 0.015\\ -0.01\\ 0.01\\ -0.008\\ 0.006\\ -0.005\\ 0.004\\ -0.003\\ 0.002\\ 0\\ 0\\ 0\\ 0\\ 0\\
}\noiseB

% ---------------- Speech in panel B (t, y) ----------------
\pgfplotstableread[header=false,row sep=\\]{
0 0\\ 0.44 0\\ 0.445 0.005\\ 0.45 -0.005\\ 0.455 0.005\\ 0.46 -0.01\\ 0.465 0.015\\ 0.47 -0.025\\ 0.475 0.03\\ 0.48 -0.03\\ 0.485 0.028\\ 0.49 -0.02\\ 0.495 0.01\\ 0.5 -0.005\\
0.52 0.004\\ 0.54 -0.004\\ 0.56 0.004\\
0.575 -0.008\\ 0.58 0.01\\ 0.585 -0.01\\ 0.59 0.012\\ 0.595 -0.01\\ 0.6 0.01\\ 0.605 -0.012\\ 0.61 0.01\\ 0.615 -0.008\\ 0.62 0.01\\ 0.625 -0.01\\ 0.63 0.008\\ 0.635 -0.01\\ 0.64 0.008\\ 0.645 -0.006\\ 0.65 0.005\\ 0.655 -0.004\\
0.66 0.03\\ 0.665 -0.05\\ 0.67 0.06\\ 0.675 -0.065\\ 0.68 0.07\\ 0.685 -0.07\\ 0.69 0.08\\ 0.695 -0.075\\
0.7 0.09\\ 0.705 -0.08\\ 0.71 0.095\\ 0.715 -0.08\\ 0.72 0.09\\ 0.725 -0.085\\ 0.73 0.09\\ 0.735 -0.08\\ 0.74 0.085\\
0.745 -0.075\\ 0.75 0.08\\ 0.755 -0.07\\ 0.76 0.075\\ 0.765 -0.07\\ 0.77 0.07\\ 0.775 -0.065\\ 0.78 0.07\\ 0.785 -0.065\\ 0.79 0.07\\
0.795 -0.07\\ 0.8 0.075\\ 0.805 -0.08\\ 0.81 0.085\\ 0.815 -0.085\\ 0.82 0.09\\ 0.825 -0.09\\ 0.83 0.085\\ 0.835 -0.085\\ 0.84 0.08\\ 0.845 -0.075\\ 0.85 0.06\\ 0.855 -0.05\\ 0.86 0.04\\
0.865 -0.03\\ 0.87 0.03\\ 0.875 -0.028\\ 0.88 0.03\\ 0.885 -0.03\\ 0.89 0.028\\ 0.895 -0.03\\ 0.9 0.03\\ 0.905 -0.028\\ 0.91 0.025\\ 0.915 -0.028\\ 0.92 0.03\\ 0.925 -0.025\\ 0.93 0.028\\ 0.935 -0.03\\ 0.94 0.025\\ 0.945 -0.022\\ 0.95 0.025\\ 0.955 -0.02\\ 0.96 0.022\\ 0.965 -0.025\\ 0.97 0.02\\ 0.975 -0.02\\ 0.98 0.025\\ 0.985 -0.03\\
0.99 0.04\\ 0.995 -0.05\\ 1 0.055\\ 1.005 -0.06\\ 1.01 0.06\\ 1.015 -0.058\\ 1.02 0.06\\ 1.025 -0.055\\ 1.03 0.05\\ 1.035 -0.04\\ 1.04 0.03\\
1.045 -0.02\\ 1.05 0.02\\ 1.055 -0.018\\ 1.06 0.02\\ 1.065 -0.03\\
1.07 0.045\\ 1.075 -0.055\\ 1.08 0.06\\ 1.085 -0.06\\ 1.09 0.058\\ 1.095 -0.055\\ 1.1 0.05\\ 1.105 -0.04\\ 1.11 0.025\\
1.12 -0.01\\ 1.13 0.01\\ 1.14 -0.01\\ 1.15 0.01\\ 1.16 -0.008\\ 1.17 0.01\\ 1.18 -0.01\\ 1.19 0.008\\ 1.2 -0.01\\ 1.21 0.01\\ 1.22 -0.008\\ 1.23 0.01\\ 1.24 -0.01\\
1.245 0.01\\ 1.25 -0.01\\ 1.255 0.012\\ 1.26 -0.015\\ 1.265 0.02\\ 1.27 -0.03\\
1.275 0.05\\ 1.28 -0.07\\ 1.285 0.09\\ 1.29 -0.1\\ 1.295 0.11\\ 1.3 -0.105\\ 1.305 0.12\\ 1.31 -0.11\\ 1.315 0.115\\ 1.32 -0.105\\ 1.325 0.11\\ 1.33 -0.1\\ 1.335 0.09\\ 1.34 -0.08\\
1.345 0.07\\ 1.35 -0.06\\ 1.355 0.06\\ 1.36 -0.055\\ 1.365 0.06\\ 1.37 -0.055\\ 1.375 0.06\\ 1.38 -0.06\\ 1.385 0.065\\
1.39 -0.07\\ 1.395 0.075\\ 1.4 -0.075\\ 1.405 0.08\\ 1.41 -0.08\\ 1.415 0.085\\ 1.42 -0.08\\ 1.425 0.085\\ 1.43 -0.08\\ 1.435 0.08\\ 1.44 -0.075\\ 1.445 0.07\\ 1.45 -0.06\\ 1.455 0.05\\ 1.46 -0.04\\
1.465 0.04\\ 1.47 -0.035\\ 1.475 0.03\\ 1.48 -0.025\\ 1.485 0.02\\ 1.49 -0.015\\ 1.495 0.01\\
1.51 -0.01\\ 1.52 0.01\\ 1.53 -0.008\\ 1.54 0.01\\ 1.55 -0.01\\ 1.56 0.008\\ 1.57 -0.01\\ 1.58 0.01\\ 1.59 -0.008\\ 1.6 0.01\\ 1.61 -0.01\\ 1.615 0.02\\
1.62 -0.04\\ 1.625 0.06\\ 1.63 -0.07\\ 1.635 0.075\\ 1.64 -0.075\\ 1.645 0.08\\ 1.65 -0.075\\ 1.655 0.075\\ 1.66 -0.07\\ 1.665 0.07\\ 1.67 -0.065\\ 1.675 0.06\\ 1.68 -0.05\\ 1.685 0.04\\
1.69 -0.035\\ 1.695 0.03\\ 1.7 -0.03\\ 1.705 0.028\\ 1.71 -0.03\\ 1.715 0.025\\ 1.72 -0.025\\ 1.725 0.022\\ 1.73 -0.02\\ 1.735 0.02\\ 1.74 -0.018\\ 1.745 0.015\\ 1.75 -0.015\\ 1.755 0.012\\ 1.76 -0.01\\ 1.765 0.008\\ 1.77 -0.006\\
1.79 0.005\\ 1.81 -0.005\\ 1.83 0.005\\ 1.85 -0.005\\ 1.87 0.005\\ 1.89 -0.005\\ 1.91 0.005\\ 1.93 -0.005\\ 1.95 0.005\\ 1.97 -0.005\\ 1.99 0.004\\ 2.01 -0.004\\ 2.03 0.003\\ 2.05 0\\ 2.5 0\\
}\speechB

% ---------------- Rain noise (y values, step 0.0025 s) ----------------
\pgfplotstableread[header=false,row sep=\\]{
0\\ -0.003\\ 0.005\\ -0.008\\ 0.01\\ -0.01\\ 0.012\\ -0.015\\ 0.015\\ -0.02\\ 0.02\\ -0.025\\ 0.025\\ -0.03\\ 0.03\\ -0.03\\ 0.035\\ -0.035\\ 0.04\\ -0.035\\
0.04\\ -0.05\\ 0.03\\ -0.06\\ 0.05\\ -0.07\\ 0.04\\ -0.08\\ 0.06\\ -0.07\\ 0.09\\ -0.05\\ 0.15\\ -0.09\\ 0.07\\ -0.11\\ 0.08\\ -0.1\\ 0.12\\ -0.06\\
0.12\\ -0.06\\ 0.14\\ -0.15\\ 0.05\\ -0.13\\ 0.1\\ -0.16\\ 0.07\\ -0.11\\ 0.13\\ -0.04\\ 0.09\\ -0.15\\ 0.23\\ -0.08\\ 0.14\\ -0.1\\ 0.06\\ -0.12\\
0.09\\ -0.14\\ 0.11\\ -0.05\\ 0.15\\ -0.1\\ 0.07\\ -0.12\\ 0.16\\ -0.08\\ 0.1\\ -0.13\\ 0.05\\ -0.11\\ 0.14\\ -0.09\\ 0.12\\ -0.07\\ 0.15\\ -0.1\\
0.14\\ -0.08\\ 0.1\\ -0.2\\ 0.06\\ -0.17\\ 0.11\\ -0.09\\ 0.12\\ -0.05\\ 0.14\\ -0.1\\ 0.13\\ -0.2\\ 0.06\\ -0.15\\ 0.1\\ -0.12\\ 0.09\\ -0.13\\
0.07\\ -0.12\\ 0.15\\ -0.1\\ 0.13\\ -0.04\\ 0.11\\ -0.14\\ 0.08\\ -0.12\\ 0.1\\ -0.16\\ 0.06\\ -0.13\\ 0.09\\ -0.11\\ 0.15\\ -0.05\\ 0.12\\ -0.1\\
0.12\\ -0.06\\ 0.14\\ -0.09\\ 0.21\\ -0.13\\ 0.1\\ -0.16\\ 0.07\\ -0.11\\ 0.13\\ -0.04\\ 0.09\\ -0.25\\ 0.11\\ -0.08\\ 0.14\\ -0.1\\ 0.06\\ -0.27\\
0.16\\ -0.14\\ 0.11\\ -0.05\\ 0.15\\ -0.1\\ 0.07\\ -0.12\\ 0.16\\ -0.08\\ 0.1\\ -0.13\\ 0.05\\ -0.11\\ 0.14\\ -0.09\\ 0.12\\ -0.07\\ 0.15\\ -0.1\\
0.14\\ -0.08\\ 0.1\\ -0.13\\ 0.06\\ -0.17\\ 0.11\\ -0.09\\ 0.12\\ -0.05\\ 0.14\\ -0.1\\ 0.13\\ -0.08\\ 0.06\\ -0.15\\ 0.1\\ -0.12\\ 0.09\\ -0.13\\
0.07\\ -0.12\\ 0.15\\ -0.1\\ 0.13\\ -0.04\\ 0.11\\ -0.14\\ 0.08\\ -0.12\\ 0.1\\ -0.16\\ 0.06\\ -0.13\\ 0.09\\ -0.11\\ 0.15\\ -0.05\\ 0.2\\ -0.24\\
0.12\\ -0.06\\ 0.14\\ -0.09\\ 0.05\\ -0.13\\ 0.1\\ -0.16\\ 0.07\\ -0.11\\ 0.13\\ -0.04\\ 0.09\\ -0.15\\ 0.11\\ -0.08\\ 0.14\\ -0.1\\ 0.06\\ -0.12\\
0.22\\ -0.14\\ 0.11\\ -0.05\\ 0.15\\ -0.1\\ 0.07\\ -0.3\\ 0.16\\ -0.08\\ 0.1\\ -0.13\\ 0.05\\ -0.11\\ 0.14\\ -0.09\\ 0.26\\ -0.29\\ 0.15\\ -0.1\\
0.14\\ -0.08\\ 0.1\\ -0.13\\ 0.06\\ -0.24\\ 0.11\\ -0.09\\ 0.12\\ -0.05\\ 0.14\\ -0.1\\ 0.13\\ -0.08\\ 0.06\\ -0.15\\ 0.1\\ -0.12\\ 0.09\\ -0.13\\
0.07\\ -0.12\\ 0.15\\ -0.1\\ 0.13\\ -0.04\\ 0.11\\ -0.14\\ 0.08\\ -0.22\\ 0.1\\ -0.16\\ 0.06\\ -0.13\\ 0.09\\ -0.11\\ 0.15\\ -0.05\\ 0.12\\ -0.1\\
0.12\\ -0.06\\ 0.14\\ -0.09\\ 0.5\\ -0.52\\ 0.1\\ -0.16\\ 0.07\\ -0.11\\ 0.13\\ -0.04\\ 0.09\\ -0.15\\ 0.11\\ -0.08\\ 0.14\\ -0.1\\ 0.06\\ -0.12\\
0.09\\ -0.14\\ 0.11\\ -0.05\\ 0.15\\ -0.1\\ 0.07\\ -0.12\\ 0.16\\ -0.08\\ 0.1\\ -0.13\\ 0.05\\ -0.11\\ 0.14\\ -0.09\\ 0.12\\ -0.07\\ 0.15\\ -0.1\\
0.14\\ -0.08\\ 0.1\\ -0.13\\ 0.06\\ -0.17\\ 0.11\\ -0.09\\ 0.24\\ -0.41\\ 0.14\\ -0.1\\ 0.13\\ -0.08\\ 0.06\\ -0.15\\ 0.1\\ -0.12\\ 0.09\\ -0.13\\
0.07\\ -0.12\\ 0.15\\ -0.1\\ 0.13\\ -0.04\\ 0.11\\ -0.14\\ 0.08\\ -0.12\\ 0.1\\ -0.16\\ 0.06\\ -0.13\\ 0.09\\ -0.11\\ 0.15\\ -0.05\\ 0.12\\ -0.1\\
0.12\\ -0.06\\ 0.14\\ -0.09\\ 0.05\\ -0.13\\ 0.1\\ -0.16\\ 0.07\\ -0.42\\ 0.36\\ -0.04\\ 0.09\\ -0.15\\ 0.11\\ -0.08\\ 0.14\\ -0.1\\ 0.06\\ -0.12\\
0.09\\ -0.14\\ 0.11\\ -0.05\\ 0.15\\ -0.1\\ 0.07\\ -0.12\\ 0.16\\ -0.08\\ 0.1\\ -0.13\\ 0.05\\ -0.11\\ 0.14\\ -0.09\\ 0.12\\ -0.07\\ 0.15\\ -0.1\\
0.14\\ -0.08\\ 0.1\\ -0.13\\ 0.06\\ -0.17\\ 0.11\\ -0.09\\ 0.12\\ -0.05\\ 0.14\\ -0.1\\ 0.13\\ -0.08\\ 0.06\\ -0.15\\ 0.1\\ -0.12\\ 0.09\\ -0.13\\
0.07\\ -0.12\\ 0.15\\ -0.1\\ 0.13\\ -0.04\\ 0.11\\ -0.14\\ 0.08\\ -0.12\\ 0.1\\ -0.16\\ 0.06\\ -0.13\\ 0.09\\ -0.11\\ 0.15\\ -0.05\\ 0.12\\ -0.1\\
0.28\\ -0.06\\ 0.14\\ -0.09\\ 0.05\\ -0.13\\ 0.1\\ -0.16\\ 0.07\\ -0.11\\ 0.13\\ -0.04\\ 0.09\\ -0.15\\ 0.11\\ -0.08\\ 0.14\\ -0.1\\ 0.06\\ -0.12\\
0.09\\ -0.14\\ 0.11\\ -0.05\\ 0.15\\ -0.1\\ 0.07\\ -0.12\\ 0.16\\ -0.08\\ 0.1\\ -0.13\\ 0.05\\ -0.11\\ 0.14\\ -0.09\\ 0.12\\ -0.07\\ 0.15\\ -0.1\\
0.14\\ -0.08\\ 0.1\\ -0.13\\ 0.06\\ -0.17\\ 0.11\\ -0.09\\ 0.12\\ -0.05\\ 0.14\\ -0.1\\ 0.13\\ -0.08\\ 0.06\\ -0.15\\ 0.1\\ -0.12\\ 0.09\\ -0.13\\
0.07\\ -0.12\\ 0.15\\ -0.1\\ 0.13\\ -0.04\\ 0.11\\ -0.14\\ 0.08\\ -0.12\\ 0.1\\ -0.16\\ 0.59\\ -0.49\\ 0.09\\ -0.11\\ 0.42\\ -0.3\\ 0.12\\ -0.1\\
0.12\\ -0.06\\ 0.14\\ -0.09\\ 0.05\\ -0.13\\ 0.1\\ -0.16\\ 0.07\\ -0.11\\ 0.13\\ -0.04\\ 0.09\\ -0.15\\ 0.3\\ -0.08\\ 0.14\\ -0.1\\ 0.06\\ -0.12\\
0.3\\ -0.28\\ 0.11\\ -0.05\\ 0.15\\ -0.1\\ 0.07\\ -0.12\\ 0.16\\ -0.08\\ 0.1\\ -0.13\\ 0.05\\ -0.11\\ 0.14\\ -0.09\\ 0.12\\ -0.07\\ 0.15\\ -0.1\\
0.14\\ -0.08\\ 0.1\\ -0.13\\ 0.06\\ -0.17\\ 0.41\\ -0.5\\ 0.12\\ -0.05\\ 0.14\\ -0.1\\ 0.13\\ -0.08\\ 0.06\\ -0.15\\ 0.17\\ -0.12\\ 0.09\\ -0.13\\
0.07\\ -0.12\\ 0.15\\ -0.1\\ 0.13\\ -0.04\\ 0.11\\ -0.14\\ 0.08\\ -0.12\\ 0.1\\ -0.16\\ 0.06\\ -0.13\\ 0.09\\ -0.11\\ 0.15\\ -0.05\\ 0.12\\ -0.1\\
0.12\\ -0.06\\ 0.14\\ -0.09\\ 0.05\\ -0.13\\ 0.1\\ -0.16\\ 0.07\\ -0.11\\ 0.13\\ -0.04\\ 0.09\\ -0.17\\ 0.11\\ -0.08\\ 0.14\\ -0.1\\ 0.06\\ -0.12\\
0.09\\ -0.14\\ 0.11\\ -0.05\\ 0.15\\ -0.1\\ 0.07\\ -0.12\\ 0.16\\ -0.08\\ 0.1\\ -0.13\\ 0.05\\ -0.11\\ 0.14\\ -0.09\\ 0.12\\ -0.07\\ 0.15\\ -0.1\\
0.14\\ -0.08\\ 0.1\\ -0.13\\ 0.06\\ -0.17\\ 0.11\\ -0.09\\ 0.12\\ -0.05\\ 0.14\\ -0.1\\ 0.13\\ -0.08\\ 0.06\\ -0.15\\ 0.1\\ -0.12\\ 0.09\\ -0.13\\
0.07\\ -0.12\\ 0.15\\ -0.1\\ 0.13\\ -0.04\\ 0.11\\ -0.14\\ 0.08\\ -0.12\\ 0.1\\ -0.16\\ 0.06\\ -0.13\\ 0.09\\ -0.11\\ 0.15\\ -0.05\\ 0.12\\ -0.1\\
0.37\\ -0.23\\ 0.14\\ -0.09\\ 0.05\\ -0.13\\ 0.1\\ -0.16\\ 0.07\\ -0.11\\ 0.13\\ -0.04\\ 0.09\\ -0.15\\ 0.11\\ -0.08\\ 0.14\\ -0.1\\ 0.06\\ -0.12\\
0.09\\ -0.14\\ 0.11\\ -0.05\\ 0.15\\ -0.1\\ 0.07\\ -0.12\\ 0.16\\ -0.08\\ 0.1\\ -0.13\\ 0.32\\ -0.23\\ 0.14\\ -0.09\\ 0.12\\ -0.07\\ 0.15\\ -0.1\\
0.14\\ -0.08\\ 0.1\\ -0.13\\ 0.06\\ -0.17\\ 0.11\\ -0.09\\ 0.12\\ -0.05\\ 0.14\\ -0.1\\ 0.13\\ -0.08\\ 0.06\\ -0.15\\ 0.1\\ -0.12\\ 0.09\\ -0.13\\
0.07\\ -0.12\\ 0.15\\ -0.1\\ 0.13\\ -0.04\\ 0.11\\ -0.14\\ 0.08\\ -0.12\\ 0.1\\ -0.16\\ 0.06\\ -0.13\\ 0.09\\ -0.11\\ 0.15\\ -0.05\\ 0.12\\ -0.1\\
0.12\\ -0.06\\ 0.14\\ -0.09\\ 0.05\\ -0.13\\ 0.1\\ -0.16\\ 0.07\\ -0.11\\ 0.13\\ -0.04\\ 0.09\\ -0.15\\ 0.11\\ -0.08\\ 0.14\\ -0.1\\ 0.06\\ -0.12\\
0.09\\ -0.14\\ 0.11\\ -0.05\\ 0.15\\ -0.1\\ 0.27\\ -0.36\\ 0.16\\ -0.08\\ 0.1\\ -0.13\\ 0.05\\ -0.11\\ 0.14\\ -0.09\\ 0.27\\ -0.21\\ 0.15\\ -0.1\\
0.14\\ -0.08\\ 0.1\\ -0.13\\ 0.06\\ -0.17\\ 0.11\\ -0.09\\ 0.12\\ -0.05\\ 0.14\\ -0.1\\ 0.32\\ -0.33\\ 0.06\\ -0.15\\ 0.1\\ -0.12\\ 0.09\\ -0.13\\
0.07\\ -0.12\\ 0.15\\ -0.1\\ 0.13\\ -0.04\\ 0.11\\ -0.14\\ 0.08\\ -0.12\\ 0.8\\ -0.78\\ 0.58\\ -0.22\\ 0.09\\ -0.11\\ 0.15\\ -0.05\\ 0.12\\ -0.1\\
0.12\\ -0.06\\ 0.14\\ -0.09\\ 0.05\\ -0.13\\ 0.1\\ -0.16\\ 0.07\\ -0.11\\ 0.13\\ -0.04\\ 0.09\\ -0.15\\ 0.11\\ -0.08\\ 0.14\\ -0.1\\ 0.06\\ -0.12\\
0.09\\ -0.14\\ 0.11\\ -0.05\\ 0.15\\ -0.1\\ 0.07\\ -0.12\\ 0.16\\ -0.08\\ 0.1\\ -0.13\\ 0.05\\ -0.11\\ 0.14\\ -0.09\\ 0.12\\ -0.07\\ 0.15\\ -0.1\\
0.14\\ -0.08\\ 0.1\\ -0.13\\ 0.06\\ -0.17\\ 0.11\\ -0.09\\ 0.12\\ -0.05\\ 0.14\\ -0.1\\ 0.13\\ -0.08\\ 0.06\\ -0.15\\ 0.1\\ -0.12\\ 0.09\\ -0.13\\
0.07\\ -0.12\\ 0.15\\ -0.1\\ 0.2\\ -0.04\\ 0.11\\ -0.14\\ 0.08\\ -0.12\\ 0.1\\ -0.16\\ 0.2\\ -0.13\\ 0.09\\ -0.11\\ 0.15\\ -0.05\\ 0.12\\ -0.1\\
0.12\\ -0.06\\ 0.14\\ -0.09\\ 0.05\\ -0.17\\ 0.1\\ -0.16\\ 0.07\\ -0.11\\ 0.13\\ -0.04\\ 0.09\\ -0.15\\ 0.11\\ -0.08\\ 0.14\\ -0.1\\ 0.06\\ -0.12\\
0.08\\ -0.13\\ 0.32\\ -0.32\\ 0.135\\ -0.09\\ 0.065\\ -0.11\\ 0.145\\ -0.07\\ 0.09\\ -0.115\\ 0.045\\ -0.1\\ 0.125\\ -0.08\\ 0.11\\ -0.065\\ 0.135\\ -0.09\\
0.1\\ -0.08\\ 0.09\\ -0.07\\ 0.085\\ -0.06\\ 0.075\\ -0.065\\ 0.06\\ -0.07\\ 0.05\\ -0.055\\ 0.045\\ -0.05\\ 0.04\\ -0.045\\ 0.035\\ -0.04\\ 0.03\\ -0.035\\
0.03\\ -0.025\\ 0.025\\ -0.02\\ 0.02\\ -0.02\\ 0.015\\ -0.015\\ 0.01\\ -0.01\\ 0.01\\ -0.008\\ 0.005\\ -0.005\\ 0.005\\ -0.003\\ 0.002\\ 0\\ 0\\ 0\\
}\noiseC

% ---------------- Speech in panel C (t, y) ----------------
\pgfplotstableread[header=false,row sep=\\]{
0 0\\ 0.465 0\\ 0.47 0.02\\ 0.475 -0.03\\ 0.48 0.03\\ 0.485 -0.03\\ 0.49 0.025\\ 0.495 -0.015\\ 0.5 0.005\\
0.52 -0.004\\ 0.54 0.004\\ 0.56 -0.004\\
0.58 0.008\\ 0.585 -0.01\\ 0.59 0.01\\ 0.595 -0.01\\ 0.6 0.012\\ 0.605 -0.01\\ 0.61 0.01\\ 0.615 -0.008\\ 0.62 0.008\\ 0.625 -0.006\\
0.64 0.004\\ 0.655 -0.01\\
0.66 0.03\\ 0.665 -0.045\\ 0.67 0.05\\ 0.675 -0.055\\ 0.68 0.06\\ 0.685 -0.055\\ 0.69 0.06\\ 0.695 -0.06\\ 0.7 0.058\\ 0.705 -0.055\\ 0.71 0.05\\ 0.715 -0.045\\
0.72 0.05\\ 0.725 -0.055\\ 0.73 0.06\\ 0.735 -0.065\\ 0.74 0.07\\ 0.745 -0.068\\ 0.75 0.07\\ 0.755 -0.065\\ 0.76 0.06\\ 0.765 -0.06\\ 0.77 0.055\\ 0.775 -0.05\\ 0.78 0.05\\ 0.785 -0.055\\ 0.79 0.06\\ 0.795 -0.06\\ 0.8 0.055\\ 0.805 -0.05\\ 0.81 0.05\\ 0.815 -0.045\\
0.82 0.045\\ 0.825 -0.04\\ 0.83 0.04\\ 0.835 -0.038\\ 0.84 0.035\\ 0.845 -0.03\\ 0.85 0.025\\ 0.855 -0.02\\ 0.86 0.015\\
0.87 -0.015\\ 0.88 0.015\\ 0.89 -0.012\\ 0.9 0.015\\ 0.91 -0.015\\ 0.92 0.012\\ 0.93 -0.015\\ 0.94 0.012\\ 0.95 -0.01\\ 0.96 0.01\\ 0.97 -0.008\\
0.99 0.005\\ 1.01 -0.005\\ 1.025 0.008\\
1.03 -0.015\\ 1.035 0.02\\ 1.04 -0.022\\ 1.045 0.02\\ 1.05 -0.02\\ 1.055 0.022\\ 1.06 -0.02\\ 1.065 0.018\\ 1.07 -0.015\\ 1.075 0.012\\ 1.08 -0.01\\
1.09 0.008\\
1.1 -0.02\\ 1.105 0.028\\ 1.11 -0.03\\ 1.115 0.03\\ 1.12 -0.03\\ 1.125 0.028\\ 1.13 -0.025\\ 1.135 0.02\\ 1.14 -0.015\\ 1.145 0.01\\
1.16 -0.005\\ 1.18 0.005\\ 1.2 -0.005\\ 1.22 0.005\\ 1.24 -0.005\\ 1.26 0.005\\ 1.28 -0.008\\
1.29 0.04\\ 1.295 -0.05\\ 1.3 0.06\\ 1.305 -0.06\\ 1.31 0.065\\ 1.315 -0.06\\ 1.32 0.06\\ 1.325 -0.055\\ 1.33 0.05\\ 1.335 -0.045\\
1.34 0.04\\ 1.345 -0.04\\ 1.35 0.042\\ 1.355 -0.04\\ 1.36 0.038\\ 1.365 -0.04\\ 1.37 0.04\\ 1.375 -0.038\\ 1.38 0.04\\ 1.385 -0.045\\
1.39 0.05\\ 1.395 -0.05\\ 1.4 0.055\\ 1.405 -0.055\\ 1.41 0.05\\ 1.415 -0.05\\ 1.42 0.048\\ 1.425 -0.05\\ 1.43 0.045\\ 1.435 -0.042\\ 1.44 0.04\\ 1.445 -0.035\\ 1.45 0.03\\ 1.455 -0.028\\ 1.46 0.025\\ 1.465 -0.02\\ 1.47 0.018\\ 1.475 -0.015\\
1.485 0.01\\ 1.49 -0.01\\ 1.495 0.008\\ 1.5 -0.005\\
1.52 0.004\\ 1.54 -0.004\\ 1.56 0.004\\ 1.58 -0.004\\ 1.6 0.004\\ 1.62 -0.01\\
1.625 0.03\\ 1.63 -0.04\\ 1.635 0.045\\ 1.64 -0.05\\ 1.645 0.05\\ 1.65 -0.05\\ 1.655 0.048\\ 1.66 -0.045\\ 1.665 0.04\\ 1.67 -0.038\\ 1.675 0.035\\ 1.68 -0.03\\ 1.685 0.025\\
1.69 -0.02\\ 1.695 0.02\\ 1.7 -0.02\\ 1.705 0.018\\ 1.71 -0.02\\ 1.715 0.018\\ 1.72 -0.015\\ 1.725 0.015\\ 1.73 -0.015\\ 1.735 0.012\\ 1.74 -0.012\\ 1.745 0.01\\ 1.75 -0.01\\ 1.755 0.008\\ 1.76 -0.006\\
1.78 0.005\\ 1.8 -0.005\\ 1.82 0.005\\ 1.84 -0.005\\ 1.86 0.005\\ 1.88 -0.005\\ 1.9 0.005\\ 1.92 -0.005\\ 1.94 0.005\\ 1.96 -0.005\\ 1.98 0.004\\ 2 -0.004\\ 2.02 0.003\\ 2.04 0\\ 2.5 0\\
}\speechC

\pgfplotsset{
  sigaxis/.style={
    scale only axis,
    xmin=0, xmax=2.5, ymin=-0.8, ymax=0.8,
    xtick={0,0.5,1,1.5,2,2.5},
    xticklabels={0,0.5,1,1.5,2,2.5},
    ytick={-0.8,-0.6,-0.4,-0.2,0,0.2,0.4,0.6,0.8},
    yticklabels={-0.8,-0.6,-0.4,-0.2,0,0.2,0.4,0.6,0.8},
    /pgf/number format/assume math mode=true,
    tick align=inside,
    major tick length=9.5pt,
    every tick/.style={black, line width=0.6pt},
    axis line style={line width=0.75pt},
    tick label style={font=\tickf},
    label style={font=\labf},
    title style={font=\labf, at={(axis description cs:0.5,1)}, anchor=base, yshift=4.5pt},
    xlabel={Time (s)},
    ylabel={Signal amplitude},
    legend style={draw=black, line width=0.7pt, fill=white, anchor=north east,
      font=\legf, inner xsep=6pt, inner ysep=6.5pt, row sep=6pt, column sep=3.5pt,
      nodes={inner sep=0pt, text height=10pt, text depth=3pt}},
    legend cell align=left,
    legend image code/.code={\draw[##1, line width=0.6pt] (0pt,0pt) -- (28.5pt,0pt);},
  },
  sig/.style={mark=none, line width=0.5pt, line join=round},
}

\begin{document}
\begin{tikzpicture}
\path[use as bounding box] (0pt,0pt) rectangle (914.5pt,-1098.5pt);

\node[font=\bfseries\fontsize{15}{17}\selectfont] at (7.75pt,-9.5pt) {A};
\node[font=\bfseries\fontsize{15}{17}\selectfont] at (7pt,-402pt) {B};
\node[font=\bfseries\fontsize{15}{17}\selectfont] at (7.25pt,-780.5pt) {C};

% ---- Panel A ----
\begin{axis}[sigaxis, at={(51pt,-26pt)}, anchor=north west,
  width=852.5pt, height=276pt,
  title={Babble noise},
  xlabel style={at={(axis description cs:0.5,0)}, anchor=base, yshift=-33pt},
  ylabel style={at={(axis description cs:-0.0287,0.5)}, anchor=base},
  legend style={at={(0.9941,0.9764)}}]
\addplot[sig, color=babbleblue] table[x expr=\coordindex*0.0025, y index=0] {\noiseA};
\addplot[sig, color=sred] table[x index=0, y index=1] {\speechA};
\legend{babble,Speech}
\end{axis}

% ---- Panel B ----
\begin{axis}[sigaxis, at={(56.25pt,-405pt)}, anchor=north west,
  width=828.75pt, height=285pt,
  title={Car Noise},
  xlabel style={at={(axis description cs:0.5,0)}, anchor=base, yshift=-32.5pt},
  ylabel style={at={(axis description cs:-0.0315,0.5)}, anchor=base},
  legend style={at={(0.974,0.9614)}}]
\addplot[sig, color=carblue] table[x expr=\coordindex*0.0025, y index=0] {\noiseB};
\addplot[sig, color=sred] table[x index=0, y index=1] {\speechB};
\legend{Car,Speech}
\end{axis}

% ---- Panel C ----
\begin{axis}[sigaxis, at={(40.5pt,-788pt)}, anchor=north west,
  width=859.5pt, height=274pt,
  title={Rain Noise},
  xlabel style={at={(axis description cs:0.5,0)}, anchor=base, yshift=-32.5pt},
  ylabel style={at={(axis description cs:-0.029,0.5)}, anchor=base},
  legend style={at={(0.9953,0.978)}}]
\addplot[sig, color=carblue] table[x expr=\coordindex*0.0025, y index=0] {\noiseC};
\addplot[sig, color=sred] table[x index=0, y index=1] {\speechC};
\legend{Rain,Speech}
\end{axis}
\end{tikzpicture}
\end{document}
